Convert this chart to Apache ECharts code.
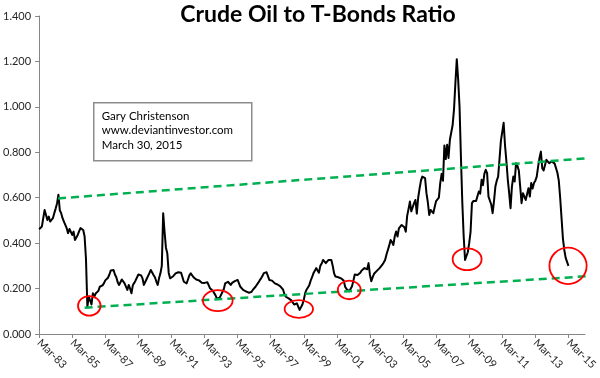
<!DOCTYPE html>
<html>
<head>
<meta charset="utf-8">
<script src="https://cdn.jsdelivr.net/npm/echarts@6/dist/echarts.min.js"></script>
<style>
html,body{margin:0;padding:0;background:#fff;}
#chart{width:600px;height:378px;}
</style>
</head>
<body>
<div id="chart"></div>
<script>
// Monthly ratio, starting Mar-83 (index 0), one row per year (Mar..Feb)
const ratio = [
  0.461,0.465,0.473,0.510,0.546,0.543,0.502,0.517,0.495,0.502,0.510,0.532,
  0.552,0.575,0.613,0.545,0.532,0.510,0.495,0.488,0.466,0.444,0.462,0.450,
  0.436,0.451,0.414,0.420,0.436,0.452,0.466,0.462,0.458,0.429,0.330,0.120,
  0.165,0.160,0.130,0.179,0.164,0.178,0.186,0.190,0.208,0.201,0.214,0.223,
  0.236,0.238,0.248,0.262,0.280,0.287,0.282,0.262,0.250,0.228,0.216,0.216,
  0.240,0.235,0.223,0.230,0.194,0.216,0.200,0.179,0.215,0.225,0.236,0.240,
  0.262,0.267,0.258,0.245,0.216,0.223,0.242,0.250,0.268,0.282,0.275,0.260,
  0.250,0.232,0.216,0.245,0.267,0.300,0.532,0.450,0.380,0.355,0.270,0.245,
  0.250,0.253,0.260,0.267,0.270,0.272,0.275,0.270,0.265,0.230,0.226,0.223,
  0.240,0.258,0.267,0.260,0.250,0.245,0.240,0.238,0.236,0.230,0.226,0.223,
  0.225,0.230,0.228,0.215,0.201,0.195,0.190,0.186,0.170,0.155,0.150,0.160,
  0.164,0.185,0.198,0.223,0.230,0.230,0.222,0.216,0.225,0.230,0.233,0.236,
  0.238,0.238,0.208,0.200,0.194,0.190,0.188,0.186,0.182,0.179,0.185,0.194,
  0.200,0.208,0.216,0.226,0.236,0.245,0.255,0.268,0.275,0.272,0.270,0.238,
  0.238,0.235,0.228,0.223,0.220,0.218,0.216,0.210,0.208,0.195,0.175,0.164,
  0.160,0.157,0.155,0.148,0.142,0.130,0.128,0.135,0.120,0.106,0.113,0.130,
  0.150,0.180,0.195,0.205,0.215,0.235,0.250,0.267,0.278,0.290,0.282,0.270,
  0.300,0.310,0.326,0.318,0.312,0.320,0.326,0.325,0.326,0.300,0.267,0.253,
  0.255,0.250,0.253,0.245,0.238,0.235,0.208,0.198,0.190,0.188,0.195,0.210,
  0.235,0.262,0.260,0.260,0.262,0.270,0.280,0.285,0.290,0.282,0.285,0.312,
  0.260,0.232,0.250,0.265,0.270,0.278,0.285,0.290,0.297,0.305,0.315,0.326,
  0.350,0.370,0.390,0.414,0.405,0.392,0.430,0.451,0.429,0.465,0.473,0.480,
  0.488,0.470,0.450,0.520,0.550,0.583,0.540,0.535,0.576,0.590,0.530,0.600,
  0.640,0.675,0.693,0.690,0.686,0.620,0.580,0.524,0.546,0.540,0.532,0.560,
  0.585,0.590,0.600,0.664,0.705,0.675,0.830,0.770,0.833,0.775,0.855,0.862,
  0.920,0.990,1.105,1.210,1.120,1.000,0.780,0.580,0.430,0.326,0.332,0.360,
  0.400,0.450,0.576,0.585,0.590,0.586,0.583,0.627,0.618,0.679,0.655,0.705,
  0.723,0.708,0.605,0.598,0.570,0.532,0.585,0.649,0.675,0.693,0.770,0.850,
  0.890,0.930,0.830,0.760,0.680,0.620,0.554,0.649,0.693,0.671,0.752,0.740,
  0.720,0.649,0.576,0.620,0.625,0.590,0.590,0.642,0.605,0.665,0.640,0.665,
  0.675,0.693,0.737,0.775,0.803,0.730,0.720,0.715,0.767,0.760,0.752,0.755,
  0.760,0.752,0.750,0.745,0.710,0.675,0.600,0.510,0.420,0.370,0.335,0.341,
  0.300
];

// X tick labels every 24 months from Mar-83
const tickLabels = ['Mar-83','Mar-85','Mar-87','Mar-89','Mar-91','Mar-93','Mar-95','Mar-97',
  'Mar-99','Mar-01','Mar-03','Mar-05','Mar-07','Mar-09','Mar-11','Mar-13','Mar-15'];
const tickStep = 24;      // months between labels
const axisMonths = 396;   // axis extent in months

// Trend lines: [monthIndex, value] end points
const upperTrend = [[13.7, 0.597], [405, 0.777]];
const lowerTrend = [[33.0, 0.116], [405, 0.257]];

// Circled lows: [centerMonth, centerValue, halfWidthMonths, halfHeightValue]
const lows = [
  [36.4, 0.124, 8.2, 0.043],
  [129.6, 0.147, 10.8, 0.046],
  [188.4, 0.110, 10.3, 0.039],
  [225.0, 0.194, 8.3, 0.041],
  [310.5, 0.329, 10.5, 0.048],
  [383.7, 0.300, 13.5, 0.080]
];

const titleText = 'Crude Oil to T-Bonds Ratio';
const noteLines = ['Gary Christenson', 'www.deviantinvestor.com', 'March 30, 2015'];

const FONT = 'Lato, "Open Sans", sans-serif';
const axisGray = '#868686';

const chart = echarts.init(document.getElementById('chart'), null, {renderer: 'canvas'});
const tickValues = tickLabels.map((_, i) => i * tickStep);

chart.setOption({
  animation: false,
  backgroundColor: '#ffffff',
  title: {
    text: titleText,
    left: 313, top: -2, textAlign: 'center',
    textStyle: {fontFamily: FONT, fontWeight: 'bold', fontSize: 23, color: '#000'}
  },
  grid: {left: 39, right: 13, top: 16, bottom: 44, containLabel: false},
  xAxis: {
    type: 'value', min: 0, max: axisMonths,
    splitLine: {show: false},
    axisLine: {show: true, lineStyle: {color: axisGray, width: 1}},
    axisTick: {show: true, length: 4, lineStyle: {color: axisGray}, customValues: tickValues},
    axisLabel: {
      customValues: tickValues,
      rotate: -45, margin: 7,
      fontFamily: FONT, fontSize: 11, color: '#262626',
      formatter: v => tickLabels[Math.round(v / tickStep)] || ''
    }
  },
  yAxis: {
    type: 'value', min: 0, max: 1.4, interval: 0.2,
    splitLine: {show: false},
    axisLine: {show: true, lineStyle: {color: axisGray, width: 1}},
    axisTick: {show: true, length: 4, lineStyle: {color: axisGray}},
    axisLabel: {
      margin: 8, fontFamily: FONT, fontSize: 11, color: '#262626',
      formatter: v => v.toFixed(3)
    }
  },
  graphic: [{
    type: 'group', left: 93, top: 102,
    children: [
      {type: 'rect', shape: {x: 0, y: 0, width: 158, height: 58},
       style: {fill: '#fff', stroke: '#8c8c8c', lineWidth: 1.5}},
      {type: 'text', x: 8, y: 6,
       style: {text: noteLines.join('\n'), fontFamily: FONT, fontSize: 11.5, lineHeight: 14.5, fill: '#000'}}
    ]
  }],
  series: [
    {
      type: 'line', name: 'ratio', z: 3,
      data: ratio.map((v, i) => [i, v]),
      showSymbol: false, symbol: 'none',
      lineStyle: {color: '#000', width: 2, join: 'round'}
    },
    {
      type: 'line', name: 'upper', z: 4, clip: false,
      data: upperTrend, showSymbol: false, symbol: 'none',
      lineStyle: {color: '#00b050', width: 2.5, type: [8, 5]}
    },
    {
      type: 'line', name: 'lower', z: 4, clip: false,
      data: lowerTrend, showSymbol: false, symbol: 'none',
      lineStyle: {color: '#00b050', width: 2.5, type: [8, 5]}
    },
    {
      type: 'custom', name: 'lows', z: 5, clip: false,
      data: lows,
      renderItem: function (params, api) {
        const c = api.coord([api.value(0), api.value(1)]);
        const s = api.size([api.value(2), api.value(3)]);
        return {
          type: 'ellipse',
          shape: {cx: c[0], cy: c[1], rx: s[0], ry: s[1]},
          style: {fill: 'none', stroke: '#ff0000', lineWidth: 1.8}
        };
      }
    }
  ]
});
</script>
</body>
</html>
